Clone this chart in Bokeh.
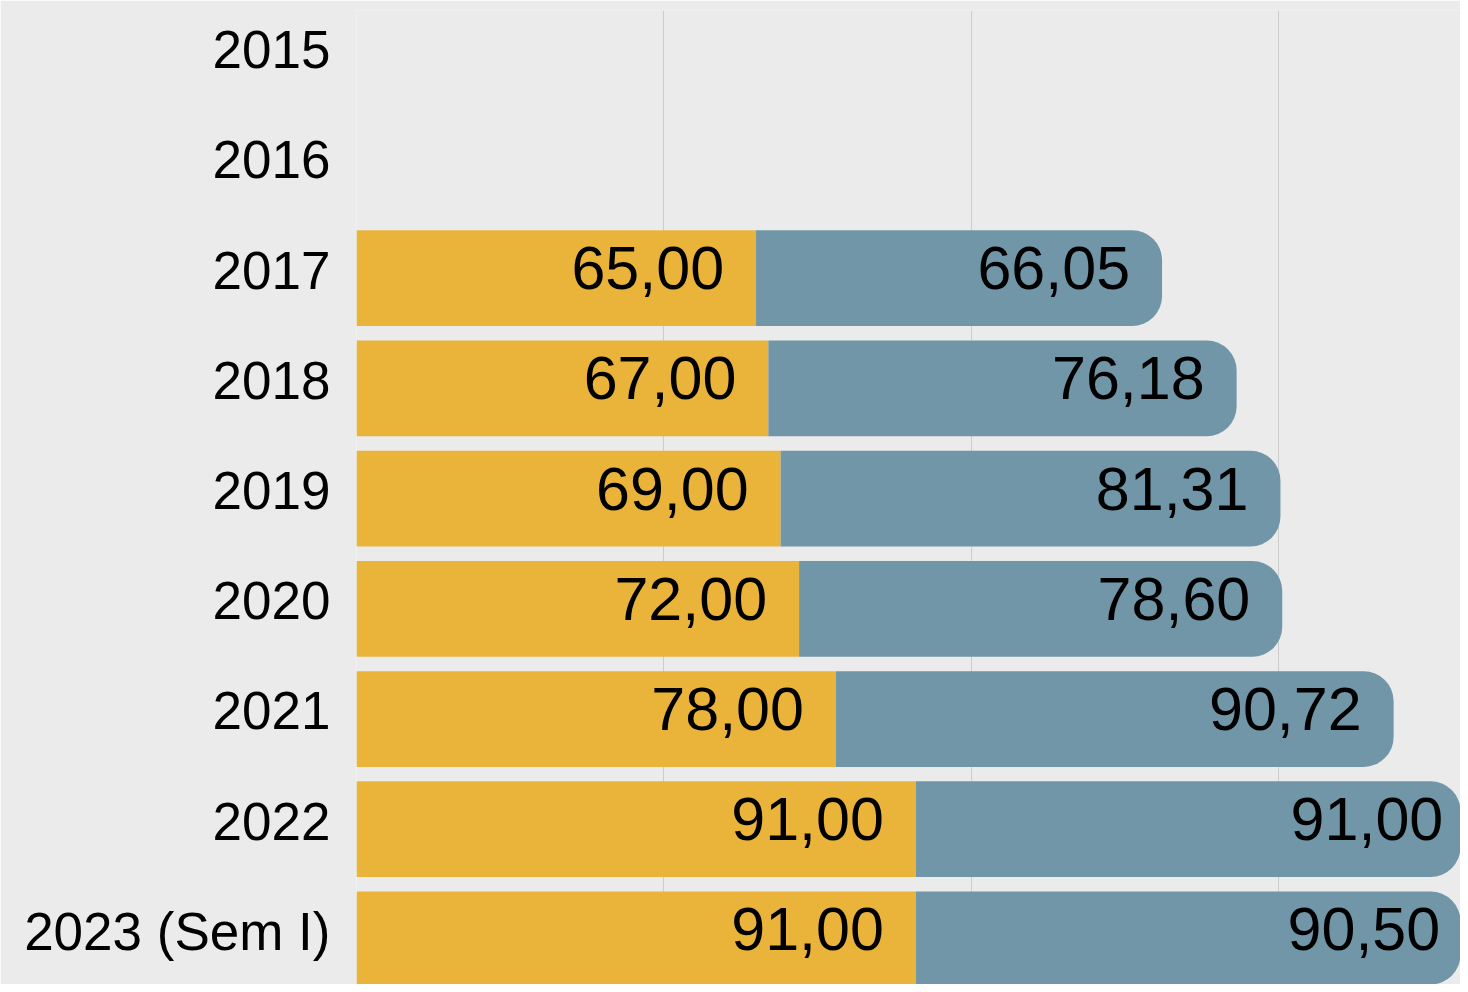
from bokeh.plotting import figure
from bokeh.models import ColumnDataSource, Range1d, FixedTicker, LinearAxis
from bokeh.core.properties import value
from bokeh.embed import file_html
from bokeh.resources import INLINE

# ---- data ----
categories = ["2015", "2016", "2017", "2018", "2019", "2020", "2021", "2022", "2023 (Sem I)"]
yellow_values = [None, None, 65.00, 67.00, 69.00, 72.00, 78.00, 91.00, 91.00]
blue_values = [None, None, 66.05, 76.18, 81.31, 78.60, 90.72, 91.00, 90.50]
grid_ticks = [0, 50, 100, 150]

YELLOW = "#EAB43B"
BLUE = "#7096A8"
BG = "#EBEBEB"
FONT = "Liberation Sans"


def fmt(v):
    return f"{v:.2f}".replace(".", ",")


rows = [i for i, v in enumerate(yellow_values) if v is not None]
yellow_src = ColumnDataSource(dict(
    y=rows,
    left=[0] * len(rows),
    right=[yellow_values[i] for i in rows],
    label=[fmt(yellow_values[i]) for i in rows],
))
blue_src = ColumnDataSource(dict(
    y=rows,
    left=[yellow_values[i] for i in rows],
    right=[yellow_values[i] + blue_values[i] for i in rows],
    label=[fmt(blue_values[i]) for i in rows],
))

Y_START, Y_END = 8.409, -0.429
LABEL_SHIFT = 0.073  # category labels sit slightly above the bar centres

p = figure(
    width=1460, height=984,
    output_backend="svg", toolbar_location=None,
    x_range=Range1d(0, 179.6),
    y_range=Range1d(start=Y_START, end=Y_END),
    x_axis_location=None, y_axis_location=None,
    min_border_left=356, min_border_right=0, min_border_top=10, min_border_bottom=0,
    background_fill_color=BG, border_fill_color=BG, outline_line_color=None,
)
p.extra_y_ranges = {"labels": Range1d(start=Y_START + LABEL_SHIFT, end=Y_END + LABEL_SHIFT)}

p.ygrid.visible = False
p.xgrid.ticker = FixedTicker(ticks=grid_ticks)
p.xgrid.grid_line_color = "#CCCCCC"
p.xgrid.grid_line_width = 1

ya = LinearAxis(y_range_name="labels")
ya.ticker = FixedTicker(ticks=list(range(len(categories))))
ya.major_label_overrides = {i: c for i, c in enumerate(categories)}
ya.axis_line_color = None
ya.major_tick_line_color = None
ya.minor_tick_line_color = None
ya.major_tick_out = 0
ya.major_tick_in = 0
ya.major_label_standoff = 26
ya.major_label_text_font_size = "53px"
ya.major_label_text_font = FONT
ya.major_label_text_color = "black"
p.add_layout(ya, "left")

p.hbar(y="y", left="left", right="right", height=0.869, source=yellow_src,
       fill_color=YELLOW, line_color=None)
p.hbar(y="y", left="left", right="right", height=0.869, source=blue_src,
       fill_color=BLUE, line_color=None, border_radius=(0, 30, 30, 0))

for src in (yellow_src, blue_src):
    p.text(x="right", y="y", text="label", source=src,
           text_align="right", text_baseline="middle",
           x_offset=-32, y_offset=-10,
           text_font_size="61px", text_font=value(FONT), text_color="black")

open("out.html", "w").write(file_html(p, INLINE))
